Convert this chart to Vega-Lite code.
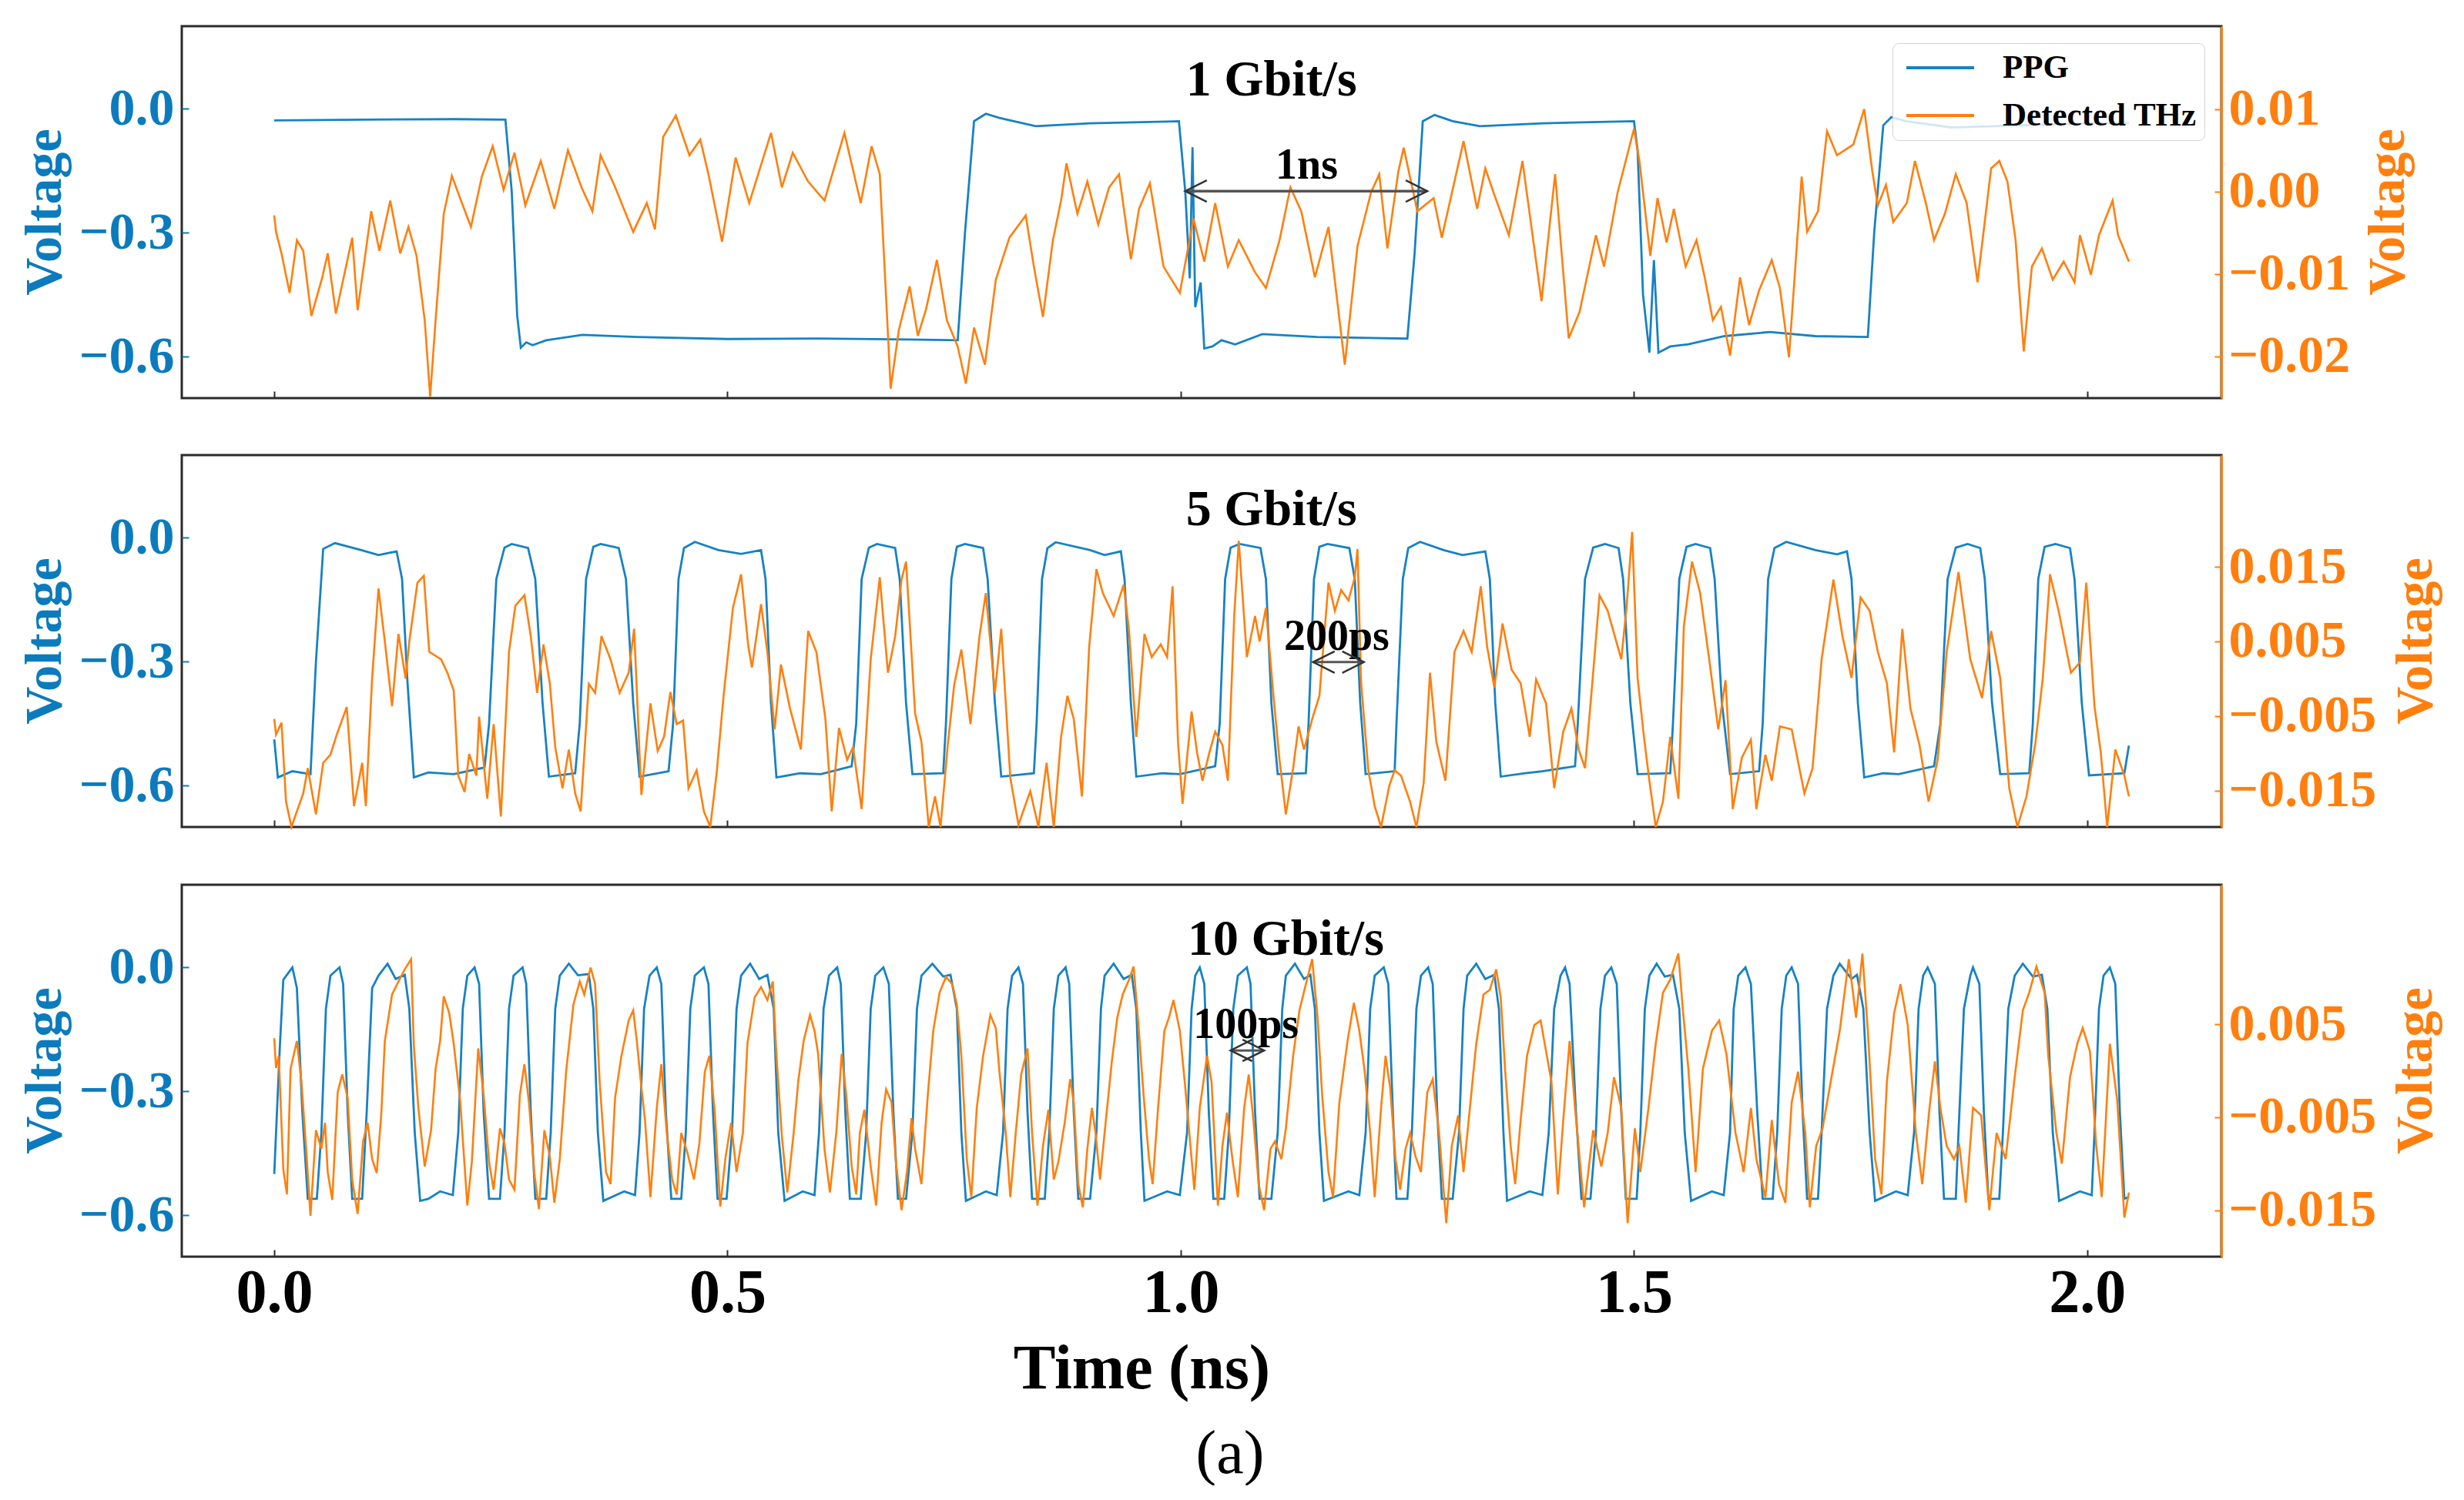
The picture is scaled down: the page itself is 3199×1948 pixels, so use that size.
{
  "$schema": "https://vega.github.io/schema/vega-lite/v6.json",
  "background": "white",
  "padding": {"left": 22, "top": 32, "right": 0, "bottom": 0},
  "title": {"text": "(a)", "orient": "bottom", "anchor": "middle", "font": "Liberation Serif", "fontSize": 80, "fontWeight": "normal", "color": "black", "offset": 30},
  "spacing": 66,
  "datasets": {
    "ppg1": [{"t":0,"v":-0.028},{"t":0.1,"v":-0.026},{"t":0.2,"v":-0.025},{"t":0.255,"v":-0.026},{"t":0.262,"v":-0.2},{"t":0.268,"v":-0.5},{"t":0.272,"v":-0.578},{"t":0.278,"v":-0.565},{"t":0.285,"v":-0.572},{"t":0.3,"v":-0.56},{"t":0.34,"v":-0.547},{"t":0.4,"v":-0.552},{"t":0.5,"v":-0.557},{"t":0.6,"v":-0.556},{"t":0.7,"v":-0.558},{"t":0.754,"v":-0.56},{"t":0.762,"v":-0.3},{"t":0.772,"v":-0.03},{"t":0.785,"v":-0.012},{"t":0.8,"v":-0.022},{"t":0.84,"v":-0.042},{"t":0.9,"v":-0.035},{"t":0.998,"v":-0.03},{"t":1.005,"v":-0.2},{"t":1.01,"v":-0.41},{"t":1.013,"v":-0.093},{"t":1.016,"v":-0.48},{"t":1.022,"v":-0.42},{"t":1.026,"v":-0.58},{"t":1.035,"v":-0.575},{"t":1.045,"v":-0.56},{"t":1.06,"v":-0.57},{"t":1.09,"v":-0.545},{"t":1.15,"v":-0.552},{"t":1.25,"v":-0.556},{"t":1.258,"v":-0.35},{"t":1.267,"v":-0.03},{"t":1.28,"v":-0.015},{"t":1.3,"v":-0.03},{"t":1.33,"v":-0.042},{"t":1.4,"v":-0.035},{"t":1.5,"v":-0.03},{"t":1.504,"v":-0.1},{"t":1.51,"v":-0.45},{"t":1.517,"v":-0.59},{"t":1.522,"v":-0.366},{"t":1.527,"v":-0.59},{"t":1.54,"v":-0.575},{"t":1.56,"v":-0.57},{"t":1.6,"v":-0.55},{"t":1.65,"v":-0.54},{"t":1.7,"v":-0.55},{"t":1.758,"v":-0.552},{"t":1.765,"v":-0.3},{"t":1.775,"v":-0.04},{"t":1.784,"v":-0.02},{"t":1.8,"v":-0.03},{"t":1.85,"v":-0.045},{"t":2.0,"v":-0.035},{"t":2.046,"v":-0.035}],
    "thz1": [{"t":0,"v":-0.0029},{"t":0.002,"v":-0.0049},{"t":0.008,"v":-0.0075},{"t":0.017,"v":-0.0123},{"t":0.025,"v":-0.0059},{"t":0.032,"v":-0.0072},{"t":0.041,"v":-0.0151},{"t":0.053,"v":-0.0104},{"t":0.059,"v":-0.0075},{"t":0.068,"v":-0.0148},{"t":0.086,"v":-0.0056},{"t":0.092,"v":-0.0144},{"t":0.107,"v":-0.0024},{"t":0.116,"v":-0.0072},{"t":0.128,"v":-0.0011},{"t":0.139,"v":-0.0075},{"t":0.148,"v":-0.0043},{"t":0.157,"v":-0.0078},{"t":0.166,"v":-0.0156},{"t":0.172,"v":-0.0249},{"t":0.178,"v":-0.0156},{"t":0.187,"v":-0.0027},{"t":0.196,"v":0.0019},{"t":0.205,"v":-0.0008},{"t":0.217,"v":-0.0043},{"t":0.229,"v":0.0018},{"t":0.241,"v":0.0055},{"t":0.253,"v":0.0002},{"t":0.265,"v":0.0047},{"t":0.277,"v":-0.0017},{"t":0.294,"v":0.0037},{"t":0.309,"v":-0.0021},{"t":0.324,"v":0.005},{"t":0.339,"v":0.0005},{"t":0.351,"v":-0.0024},{"t":0.36,"v":0.0044},{"t":0.375,"v":0.0008},{"t":0.396,"v":-0.0049},{"t":0.411,"v":-0.0014},{"t":0.42,"v":-0.0046},{"t":0.429,"v":0.0066},{"t":0.443,"v":0.0092},{"t":0.458,"v":0.0044},{"t":0.47,"v":0.0063},{"t":0.479,"v":0.0021},{"t":0.494,"v":-0.0061},{"t":0.509,"v":0.0041},{"t":0.524,"v":-0.0014},{"t":0.548,"v":0.0071},{"t":0.56,"v":0.0005},{"t":0.572,"v":0.0047},{"t":0.589,"v":0.0012},{"t":0.607,"v":-0.0011},{"t":0.629,"v":0.0071},{"t":0.647,"v":-0.0014},{"t":0.659,"v":0.0055},{"t":0.668,"v":0.0021},{"t":0.674,"v":-0.0107},{"t":0.68,"v":-0.0239},{"t":0.689,"v":-0.0168},{"t":0.701,"v":-0.0115},{"t":0.71,"v":-0.0175},{"t":0.719,"v":-0.0143},{"t":0.731,"v":-0.0083},{"t":0.742,"v":-0.0156},{"t":0.754,"v":-0.0188},{"t":0.763,"v":-0.0233},{"t":0.772,"v":-0.0165},{"t":0.784,"v":-0.021},{"t":0.796,"v":-0.0107},{"t":0.811,"v":-0.0056},{"t":0.829,"v":-0.0029},{"t":0.838,"v":-0.0091},{"t":0.848,"v":-0.0152},{"t":0.859,"v":-0.0059},{"t":0.868,"v":-0.0011},{"t":0.874,"v":0.0034},{"t":0.886,"v":-0.0027},{"t":0.897,"v":0.0012},{"t":0.909,"v":-0.004},{"t":0.921,"v":0.0005},{"t":0.932,"v":0.0021},{"t":0.945,"v":-0.0082},{"t":0.954,"v":-0.0021},{"t":0.966,"v":0.001},{"t":0.981,"v":-0.0091},{"t":0.999,"v":-0.0123},{"t":1.014,"v":-0.0033},{"t":1.026,"v":-0.0085},{"t":1.038,"v":-0.0014},{"t":1.052,"v":-0.0091},{"t":1.064,"v":-0.0059},{"t":1.082,"v":-0.0098},{"t":1.094,"v":-0.0117},{"t":1.109,"v":-0.0059},{"t":1.121,"v":0.0005},{"t":1.133,"v":-0.0024},{"t":1.148,"v":-0.0104},{"t":1.163,"v":-0.0043},{"t":1.181,"v":-0.021},{"t":1.195,"v":-0.0066},{"t":1.21,"v":-0.0001},{"t":1.219,"v":0.0021},{"t":1.228,"v":-0.0069},{"t":1.24,"v":0.0024},{"t":1.246,"v":0.0053},{"t":1.261,"v":-0.0024},{"t":1.279,"v":-0.0008},{"t":1.288,"v":-0.0056},{"t":1.312,"v":0.0061},{"t":1.327,"v":-0.0021},{"t":1.336,"v":0.0028},{"t":1.345,"v":-0.0001},{"t":1.362,"v":-0.0053},{"t":1.377,"v":0.0037},{"t":1.398,"v":-0.0133},{"t":1.413,"v":0.0021},{"t":1.428,"v":-0.0178},{"t":1.44,"v":-0.0146},{"t":1.458,"v":-0.0053},{"t":1.467,"v":-0.0091},{"t":1.482,"v":-0.0001},{"t":1.5,"v":0.0076},{"t":1.506,"v":0.0037},{"t":1.518,"v":-0.0078},{"t":1.526,"v":-0.0008},{"t":1.536,"v":-0.0062},{"t":1.544,"v":-0.0021},{"t":1.557,"v":-0.0091},{"t":1.569,"v":-0.0059},{"t":1.578,"v":-0.0104},{"t":1.587,"v":-0.0156},{"t":1.596,"v":-0.014},{"t":1.606,"v":-0.0199},{"t":1.617,"v":-0.0104},{"t":1.627,"v":-0.0162},{"t":1.638,"v":-0.012},{"t":1.652,"v":-0.0083},{"t":1.661,"v":-0.0117},{"t":1.671,"v":-0.0201},{"t":1.685,"v":0.0018},{"t":1.691,"v":-0.0049},{"t":1.703,"v":-0.0024},{"t":1.713,"v":0.0073},{"t":1.724,"v":0.0044},{"t":1.742,"v":0.0057},{"t":1.754,"v":0.01},{"t":1.763,"v":0.0024},{"t":1.769,"v":-0.0017},{"t":1.778,"v":0.0008},{"t":1.786,"v":-0.0037},{"t":1.801,"v":-0.0014},{"t":1.81,"v":0.0037},{"t":1.822,"v":-0.0014},{"t":1.831,"v":-0.0059},{"t":1.843,"v":-0.0027},{"t":1.855,"v":0.0021},{"t":1.867,"v":-0.0014},{"t":1.879,"v":-0.011},{"t":1.894,"v":0.0028},{"t":1.903,"v":0.0037},{"t":1.912,"v":0.0012},{"t":1.921,"v":-0.0059},{"t":1.93,"v":-0.0194},{"t":1.939,"v":-0.0091},{"t":1.95,"v":-0.0069},{"t":1.962,"v":-0.0107},{"t":1.974,"v":-0.0085},{"t":1.986,"v":-0.011},{"t":1.992,"v":-0.0053},{"t":2.004,"v":-0.0101},{"t":2.013,"v":-0.0053},{"t":2.028,"v":-0.0011},{"t":2.034,"v":-0.0053},{"t":2.046,"v":-0.0085}],
    "ppg5": [{"t":0,"v":-0.488},{"t":0.004,"v":-0.58},{"t":0.02,"v":-0.565},{"t":0.04,"v":-0.572},{"t":0.046,"v":-0.3},{"t":0.054,"v":-0.027},{"t":0.067,"v":-0.013},{"t":0.096,"v":-0.03},{"t":0.115,"v":-0.042},{"t":0.135,"v":-0.033},{"t":0.141,"v":-0.1},{"t":0.147,"v":-0.35},{"t":0.154,"v":-0.58},{"t":0.17,"v":-0.568},{"t":0.198,"v":-0.572},{"t":0.232,"v":-0.556},{"t":0.237,"v":-0.45},{"t":0.245,"v":-0.1},{"t":0.254,"v":-0.024},{"t":0.262,"v":-0.015},{"t":0.28,"v":-0.025},{"t":0.288,"v":-0.1},{"t":0.296,"v":-0.4},{"t":0.303,"v":-0.578},{"t":0.332,"v":-0.57},{"t":0.337,"v":-0.45},{"t":0.344,"v":-0.1},{"t":0.352,"v":-0.022},{"t":0.36,"v":-0.015},{"t":0.38,"v":-0.025},{"t":0.388,"v":-0.1},{"t":0.396,"v":-0.4},{"t":0.403,"v":-0.578},{"t":0.435,"v":-0.565},{"t":0.44,"v":-0.45},{"t":0.446,"v":-0.1},{"t":0.452,"v":-0.025},{"t":0.464,"v":-0.01},{"t":0.49,"v":-0.03},{"t":0.515,"v":-0.039},{"t":0.537,"v":-0.03},{"t":0.542,"v":-0.1},{"t":0.548,"v":-0.4},{"t":0.554,"v":-0.58},{"t":0.58,"v":-0.57},{"t":0.603,"v":-0.572},{"t":0.637,"v":-0.553},{"t":0.642,"v":-0.45},{"t":0.648,"v":-0.1},{"t":0.656,"v":-0.024},{"t":0.665,"v":-0.015},{"t":0.685,"v":-0.025},{"t":0.69,"v":-0.1},{"t":0.697,"v":-0.4},{"t":0.704,"v":-0.572},{"t":0.738,"v":-0.57},{"t":0.741,"v":-0.45},{"t":0.747,"v":-0.1},{"t":0.753,"v":-0.022},{"t":0.762,"v":-0.015},{"t":0.782,"v":-0.025},{"t":0.787,"v":-0.1},{"t":0.795,"v":-0.4},{"t":0.802,"v":-0.578},{"t":0.838,"v":-0.57},{"t":0.841,"v":-0.45},{"t":0.847,"v":-0.1},{"t":0.853,"v":-0.025},{"t":0.862,"v":-0.011},{"t":0.9,"v":-0.03},{"t":0.916,"v":-0.042},{"t":0.934,"v":-0.033},{"t":0.938,"v":-0.1},{"t":0.945,"v":-0.4},{"t":0.951,"v":-0.578},{"t":0.98,"v":-0.57},{"t":0.999,"v":-0.572},{"t":1.038,"v":-0.553},{"t":1.043,"v":-0.45},{"t":1.049,"v":-0.1},{"t":1.055,"v":-0.024},{"t":1.065,"v":-0.015},{"t":1.088,"v":-0.025},{"t":1.094,"v":-0.1},{"t":1.1,"v":-0.4},{"t":1.107,"v":-0.572},{"t":1.138,"v":-0.57},{"t":1.141,"v":-0.45},{"t":1.147,"v":-0.1},{"t":1.153,"v":-0.022},{"t":1.162,"v":-0.015},{"t":1.186,"v":-0.025},{"t":1.192,"v":-0.1},{"t":1.198,"v":-0.4},{"t":1.204,"v":-0.572},{"t":1.236,"v":-0.565},{"t":1.238,"v":-0.45},{"t":1.245,"v":-0.1},{"t":1.251,"v":-0.025},{"t":1.264,"v":-0.01},{"t":1.29,"v":-0.03},{"t":1.311,"v":-0.042},{"t":1.336,"v":-0.033},{"t":1.341,"v":-0.1},{"t":1.347,"v":-0.4},{"t":1.353,"v":-0.578},{"t":1.38,"v":-0.57},{"t":1.399,"v":-0.565},{"t":1.435,"v":-0.553},{"t":1.438,"v":-0.45},{"t":1.446,"v":-0.1},{"t":1.455,"v":-0.024},{"t":1.468,"v":-0.015},{"t":1.483,"v":-0.025},{"t":1.488,"v":-0.1},{"t":1.496,"v":-0.4},{"t":1.504,"v":-0.572},{"t":1.54,"v":-0.57},{"t":1.543,"v":-0.45},{"t":1.55,"v":-0.1},{"t":1.558,"v":-0.022},{"t":1.568,"v":-0.015},{"t":1.584,"v":-0.025},{"t":1.589,"v":-0.1},{"t":1.597,"v":-0.4},{"t":1.606,"v":-0.572},{"t":1.638,"v":-0.565},{"t":1.642,"v":-0.45},{"t":1.648,"v":-0.1},{"t":1.655,"v":-0.025},{"t":1.668,"v":-0.01},{"t":1.7,"v":-0.03},{"t":1.724,"v":-0.04},{"t":1.735,"v":-0.033},{"t":1.74,"v":-0.1},{"t":1.747,"v":-0.4},{"t":1.754,"v":-0.58},{"t":1.775,"v":-0.57},{"t":1.792,"v":-0.572},{"t":1.831,"v":-0.553},{"t":1.838,"v":-0.45},{"t":1.846,"v":-0.1},{"t":1.855,"v":-0.024},{"t":1.868,"v":-0.015},{"t":1.882,"v":-0.025},{"t":1.887,"v":-0.1},{"t":1.895,"v":-0.4},{"t":1.904,"v":-0.572},{"t":1.936,"v":-0.57},{"t":1.94,"v":-0.45},{"t":1.946,"v":-0.1},{"t":1.953,"v":-0.022},{"t":1.965,"v":-0.015},{"t":1.981,"v":-0.025},{"t":1.986,"v":-0.1},{"t":1.994,"v":-0.4},{"t":2.002,"v":-0.575},{"t":2.041,"v":-0.57},{"t":2.046,"v":-0.503}],
    "thz5": [{"t":0,"v":-0.0054},{"t":0.002,"v":-0.0075},{"t":0.008,"v":-0.0059},{"t":0.013,"v":-0.0165},{"t":0.019,"v":-0.0199},{"t":0.025,"v":-0.0178},{"t":0.032,"v":-0.0154},{"t":0.037,"v":-0.012},{"t":0.046,"v":-0.0182},{"t":0.054,"v":-0.0113},{"t":0.062,"v":-0.0102},{"t":0.069,"v":-0.0075},{"t":0.08,"v":-0.0038},{"t":0.088,"v":-0.0171},{"t":0.097,"v":-0.0113},{"t":0.101,"v":-0.0171},{"t":0.108,"v":0.0001},{"t":0.115,"v":0.0121},{"t":0.122,"v":0.005},{"t":0.13,"v":-0.0037},{"t":0.137,"v":0.006},{"t":0.145,"v":0.0},{"t":0.149,"v":0.005},{"t":0.158,"v":0.0129},{"t":0.165,"v":0.0138},{"t":0.171,"v":0.0036},{"t":0.184,"v":0.0026},{"t":0.191,"v":0.0008},{"t":0.198,"v":-0.0016},{"t":0.203,"v":-0.013},{"t":0.21,"v":-0.0152},{"t":0.215,"v":-0.0101},{"t":0.223,"v":-0.013},{"t":0.226,"v":-0.0051},{"t":0.235,"v":-0.0161},{"t":0.242,"v":-0.0061},{"t":0.25,"v":-0.0185},{"t":0.259,"v":0.0036},{"t":0.266,"v":0.0098},{"t":0.276,"v":0.0112},{"t":0.283,"v":0.0057},{"t":0.29,"v":-0.0019},{"t":0.297,"v":0.0046},{"t":0.304,"v":-0.0006},{"t":0.31,"v":-0.0092},{"t":0.318,"v":-0.0147},{"t":0.325,"v":-0.0095},{"t":0.332,"v":-0.0154},{"t":0.338,"v":-0.0178},{"t":0.347,"v":-0.0007},{"t":0.354,"v":-0.0019},{"t":0.361,"v":0.0057},{"t":0.371,"v":0.0026},{"t":0.381,"v":-0.0019},{"t":0.391,"v":0.0008},{"t":0.397,"v":0.0067},{"t":0.405,"v":-0.0156},{"t":0.415,"v":-0.0033},{"t":0.423,"v":-0.0097},{"t":0.43,"v":-0.0078},{"t":0.437,"v":-0.0018},{"t":0.444,"v":-0.0061},{"t":0.451,"v":-0.0056},{"t":0.457,"v":-0.0147},{"t":0.466,"v":-0.0123},{"t":0.474,"v":-0.0178},{"t":0.481,"v":-0.0199},{"t":0.488,"v":-0.0127},{"t":0.496,"v":-0.0019},{"t":0.506,"v":0.0095},{"t":0.515,"v":0.014},{"t":0.523,"v":0.0043},{"t":0.527,"v":0.0015},{"t":0.537,"v":0.01},{"t":0.544,"v":0.0036},{"t":0.552,"v":-0.0068},{"t":0.559,"v":0.0019},{"t":0.569,"v":-0.004},{"t":0.581,"v":-0.0095},{"t":0.589,"v":0.0064},{"t":0.598,"v":0.0036},{"t":0.608,"v":-0.0054},{"t":0.615,"v":-0.0178},{"t":0.623,"v":-0.0066},{"t":0.632,"v":-0.0109},{"t":0.6385,"v":-0.0092},{"t":0.648,"v":-0.0175},{"t":0.658,"v":0.0026},{"t":0.668,"v":0.0136},{"t":0.677,"v":0.0008},{"t":0.685,"v":0.0057},{"t":0.692,"v":0.0133},{"t":0.697,"v":0.0157},{"t":0.707,"v":-0.0047},{"t":0.714,"v":-0.0085},{"t":0.722,"v":-0.0199},{"t":0.729,"v":-0.0158},{"t":0.735,"v":-0.0199},{"t":0.743,"v":-0.0089},{"t":0.75,"v":-0.0009},{"t":0.758,"v":0.0039},{"t":0.768,"v":-0.0061},{"t":0.778,"v":0.0057},{"t":0.785,"v":0.0115},{"t":0.795,"v":-0.0019},{"t":0.802,"v":0.0067},{"t":0.812,"v":-0.0133},{"t":0.821,"v":-0.0196},{"t":0.834,"v":-0.0151},{"t":0.843,"v":-0.0199},{"t":0.852,"v":-0.0113},{"t":0.86,"v":-0.0199},{"t":0.868,"v":-0.0078},{"t":0.875,"v":-0.0023},{"t":0.882,"v":-0.0054},{"t":0.891,"v":-0.0158},{"t":0.899,"v":0.0043},{"t":0.907,"v":0.0147},{"t":0.914,"v":0.0115},{"t":0.926,"v":0.0084},{"t":0.937,"v":0.0126},{"t":0.943,"v":0.0064},{"t":0.951,"v":-0.0078},{"t":0.96,"v":0.006},{"t":0.968,"v":0.0029},{"t":0.978,"v":0.0046},{"t":0.985,"v":0.0029},{"t":0.991,"v":0.0124},{"t":0.997,"v":-0.0085},{"t":1.002,"v":-0.0168},{"t":1.012,"v":-0.0044},{"t":1.018,"v":-0.0099},{"t":1.024,"v":-0.0137},{"t":1.031,"v":-0.0102},{"t":1.038,"v":-0.0071},{"t":1.046,"v":-0.0089},{"t":1.052,"v":-0.0137},{"t":1.059,"v":0.0084},{"t":1.064,"v":0.0185},{"t":1.073,"v":0.0029},{"t":1.082,"v":0.0084},{"t":1.087,"v":0.005},{"t":1.094,"v":0.0095},{"t":1.102,"v":-0.0019},{"t":1.109,"v":-0.0109},{"t":1.116,"v":-0.0182},{"t":1.124,"v":-0.012},{"t":1.13,"v":-0.0064},{"t":1.136,"v":-0.0095},{"t":1.146,"v":-0.005},{"t":1.153,"v":-0.0023},{"t":1.163,"v":0.0129},{"t":1.17,"v":0.0091},{"t":1.177,"v":0.0119},{"t":1.185,"v":0.0105},{"t":1.192,"v":0.0136},{"t":1.195,"v":0.0174},{"t":1.199,"v":-0.0006},{"t":1.207,"v":-0.0123},{"t":1.214,"v":-0.0171},{"t":1.221,"v":-0.0199},{"t":1.23,"v":-0.0144},{"t":1.236,"v":-0.0123},{"t":1.243,"v":-0.013},{"t":1.253,"v":-0.0165},{"t":1.26,"v":-0.0199},{"t":1.268,"v":-0.014},{"t":1.275,"v":0.0008},{"t":1.282,"v":-0.0085},{"t":1.292,"v":-0.0137},{"t":1.302,"v":0.0036},{"t":1.312,"v":0.0064},{"t":1.321,"v":0.0036},{"t":1.331,"v":0.0124},{"t":1.338,"v":0.0043},{"t":1.346,"v":-0.0012},{"t":1.355,"v":0.0074},{"t":1.365,"v":0.0012},{"t":1.375,"v":-0.0006},{"t":1.385,"v":-0.0078},{"t":1.392,"v":-0.0001},{"t":1.403,"v":-0.0033},{"t":1.412,"v":-0.0147},{"t":1.422,"v":-0.0071},{"t":1.431,"v":-0.004},{"t":1.439,"v":-0.0095},{"t":1.446,"v":-0.012},{"t":1.455,"v":0.0008},{"t":1.462,"v":0.0112},{"t":1.471,"v":0.0091},{"t":1.486,"v":0.0026},{"t":1.492,"v":0.0098},{"t":1.498,"v":0.0197},{"t":1.504,"v":0.0001},{"t":1.511,"v":-0.0078},{"t":1.517,"v":-0.0137},{"t":1.524,"v":-0.0199},{"t":1.532,"v":-0.0165},{"t":1.54,"v":-0.0078},{"t":1.549,"v":-0.0161},{"t":1.555,"v":0.007},{"t":1.564,"v":0.0157},{"t":1.573,"v":0.0115},{"t":1.583,"v":0.0026},{"t":1.593,"v":-0.0068},{"t":1.601,"v":-0.0002},{"t":1.609,"v":-0.0175},{"t":1.619,"v":-0.0106},{"t":1.629,"v":-0.0082},{"t":1.635,"v":-0.0175},{"t":1.645,"v":-0.0102},{"t":1.652,"v":-0.0137},{"t":1.661,"v":-0.0064},{"t":1.674,"v":-0.0068},{"t":1.688,"v":-0.0154},{"t":1.697,"v":-0.012},{"t":1.707,"v":0.0026},{"t":1.72,"v":0.0133},{"t":1.73,"v":0.0057},{"t":1.74,"v":0.0001},{"t":1.75,"v":0.0109},{"t":1.76,"v":0.0091},{"t":1.769,"v":0.0036},{"t":1.779,"v":-0.0006},{"t":1.787,"v":-0.0099},{"t":1.796,"v":0.0067},{"t":1.805,"v":-0.004},{"t":1.815,"v":-0.0089},{"t":1.825,"v":-0.0165},{"t":1.835,"v":-0.0109},{"t":1.845,"v":0.0036},{"t":1.858,"v":0.0143},{"t":1.871,"v":0.0026},{"t":1.884,"v":-0.0026},{"t":1.894,"v":0.0064},{"t":1.904,"v":0.0001},{"t":1.914,"v":-0.0147},{"t":1.923,"v":-0.0199},{"t":1.933,"v":-0.0158},{"t":1.943,"v":-0.0085},{"t":1.951,"v":0.0001},{"t":1.959,"v":0.014},{"t":1.969,"v":0.0088},{"t":1.982,"v":0.0008},{"t":1.992,"v":0.0022},{"t":1.999,"v":0.0129},{"t":2.008,"v":-0.0037},{"t":2.015,"v":-0.0099},{"t":2.022,"v":-0.0199},{"t":2.031,"v":-0.0095},{"t":2.041,"v":-0.013},{"t":2.046,"v":-0.0158}],
    "ppg10": [{"t":0,"v":-0.5},{"t":0.006,"v":-0.2},{"t":0.01,"v":-0.03},{"t":0.02,"v":0.0},{"t":0.025,"v":-0.05},{"t":0.031,"v":-0.35},{"t":0.037,"v":-0.56},{"t":0.047,"v":-0.56},{"t":0.052,"v":-0.4},{"t":0.057,"v":-0.1},{"t":0.062,"v":-0.02},{"t":0.072,"v":0.0},{"t":0.076,"v":-0.04},{"t":0.081,"v":-0.35},{"t":0.086,"v":-0.56},{"t":0.097,"v":-0.56},{"t":0.102,"v":-0.35},{"t":0.108,"v":-0.05},{"t":0.115,"v":-0.02},{"t":0.125,"v":0.009},{"t":0.134,"v":-0.028},{"t":0.144,"v":-0.018},{"t":0.149,"v":-0.1},{"t":0.155,"v":-0.4},{"t":0.161,"v":-0.565},{"t":0.17,"v":-0.56},{"t":0.183,"v":-0.542},{"t":0.197,"v":-0.551},{"t":0.203,"v":-0.4},{"t":0.208,"v":-0.1},{"t":0.213,"v":-0.02},{"t":0.221,"v":0.0},{"t":0.226,"v":-0.04},{"t":0.231,"v":-0.35},{"t":0.237,"v":-0.56},{"t":0.249,"v":-0.56},{"t":0.254,"v":-0.4},{"t":0.259,"v":-0.1},{"t":0.264,"v":-0.02},{"t":0.274,"v":0.0},{"t":0.278,"v":-0.04},{"t":0.283,"v":-0.35},{"t":0.288,"v":-0.56},{"t":0.3,"v":-0.56},{"t":0.305,"v":-0.4},{"t":0.31,"v":-0.1},{"t":0.315,"v":-0.02},{"t":0.325,"v":0.009},{"t":0.335,"v":-0.019},{"t":0.347,"v":-0.016},{"t":0.352,"v":-0.1},{"t":0.357,"v":-0.4},{"t":0.363,"v":-0.565},{"t":0.386,"v":-0.542},{"t":0.398,"v":-0.551},{"t":0.403,"v":-0.4},{"t":0.408,"v":-0.1},{"t":0.414,"v":-0.02},{"t":0.422,"v":0.0},{"t":0.427,"v":-0.04},{"t":0.432,"v":-0.35},{"t":0.438,"v":-0.56},{"t":0.449,"v":-0.56},{"t":0.454,"v":-0.4},{"t":0.459,"v":-0.1},{"t":0.464,"v":-0.02},{"t":0.474,"v":0.0},{"t":0.479,"v":-0.04},{"t":0.484,"v":-0.35},{"t":0.489,"v":-0.56},{"t":0.499,"v":-0.56},{"t":0.505,"v":-0.4},{"t":0.51,"v":-0.1},{"t":0.515,"v":-0.02},{"t":0.525,"v":0.009},{"t":0.535,"v":-0.028},{"t":0.544,"v":-0.018},{"t":0.551,"v":-0.1},{"t":0.556,"v":-0.4},{"t":0.563,"v":-0.565},{"t":0.583,"v":-0.542},{"t":0.596,"v":-0.551},{"t":0.601,"v":-0.4},{"t":0.606,"v":-0.1},{"t":0.612,"v":-0.02},{"t":0.621,"v":0.0},{"t":0.625,"v":-0.04},{"t":0.63,"v":-0.35},{"t":0.635,"v":-0.56},{"t":0.647,"v":-0.56},{"t":0.653,"v":-0.4},{"t":0.658,"v":-0.1},{"t":0.663,"v":-0.02},{"t":0.672,"v":0.0},{"t":0.678,"v":-0.04},{"t":0.683,"v":-0.35},{"t":0.688,"v":-0.56},{"t":0.697,"v":-0.56},{"t":0.704,"v":-0.4},{"t":0.709,"v":-0.1},{"t":0.714,"v":-0.02},{"t":0.726,"v":0.009},{"t":0.738,"v":-0.022},{"t":0.746,"v":-0.018},{"t":0.753,"v":-0.1},{"t":0.758,"v":-0.4},{"t":0.763,"v":-0.565},{"t":0.785,"v":-0.542},{"t":0.797,"v":-0.551},{"t":0.804,"v":-0.4},{"t":0.809,"v":-0.1},{"t":0.814,"v":-0.02},{"t":0.821,"v":0.0},{"t":0.826,"v":-0.04},{"t":0.831,"v":-0.35},{"t":0.836,"v":-0.56},{"t":0.85,"v":-0.56},{"t":0.855,"v":-0.4},{"t":0.86,"v":-0.1},{"t":0.865,"v":-0.02},{"t":0.873,"v":0.0},{"t":0.877,"v":-0.04},{"t":0.882,"v":-0.35},{"t":0.887,"v":-0.56},{"t":0.9,"v":-0.56},{"t":0.907,"v":-0.4},{"t":0.912,"v":-0.1},{"t":0.916,"v":-0.02},{"t":0.926,"v":0.009},{"t":0.937,"v":-0.028},{"t":0.946,"v":-0.018},{"t":0.951,"v":-0.1},{"t":0.956,"v":-0.4},{"t":0.96,"v":-0.565},{"t":0.985,"v":-0.542},{"t":0.999,"v":-0.551},{"t":1.007,"v":-0.4},{"t":1.012,"v":-0.1},{"t":1.016,"v":-0.02},{"t":1.021,"v":0.0},{"t":1.026,"v":-0.04},{"t":1.031,"v":-0.35},{"t":1.036,"v":-0.56},{"t":1.048,"v":-0.56},{"t":1.053,"v":-0.4},{"t":1.058,"v":-0.1},{"t":1.063,"v":-0.02},{"t":1.073,"v":0.0},{"t":1.077,"v":-0.04},{"t":1.082,"v":-0.35},{"t":1.087,"v":-0.56},{"t":1.1,"v":-0.56},{"t":1.107,"v":-0.4},{"t":1.112,"v":-0.1},{"t":1.116,"v":-0.02},{"t":1.126,"v":0.009},{"t":1.136,"v":-0.028},{"t":1.143,"v":-0.018},{"t":1.148,"v":-0.1},{"t":1.153,"v":-0.4},{"t":1.158,"v":-0.565},{"t":1.185,"v":-0.542},{"t":1.197,"v":-0.551},{"t":1.204,"v":-0.4},{"t":1.209,"v":-0.1},{"t":1.214,"v":-0.02},{"t":1.224,"v":0.0},{"t":1.229,"v":-0.04},{"t":1.234,"v":-0.35},{"t":1.238,"v":-0.56},{"t":1.25,"v":-0.56},{"t":1.255,"v":-0.4},{"t":1.26,"v":-0.1},{"t":1.265,"v":-0.02},{"t":1.273,"v":0.0},{"t":1.278,"v":-0.04},{"t":1.283,"v":-0.35},{"t":1.288,"v":-0.56},{"t":1.3,"v":-0.56},{"t":1.307,"v":-0.4},{"t":1.312,"v":-0.1},{"t":1.316,"v":-0.02},{"t":1.326,"v":0.009},{"t":1.336,"v":-0.028},{"t":1.346,"v":-0.018},{"t":1.351,"v":-0.1},{"t":1.356,"v":-0.4},{"t":1.36,"v":-0.565},{"t":1.385,"v":-0.542},{"t":1.399,"v":-0.551},{"t":1.406,"v":-0.4},{"t":1.412,"v":-0.1},{"t":1.419,"v":-0.02},{"t":1.424,"v":0.0},{"t":1.429,"v":-0.04},{"t":1.436,"v":-0.35},{"t":1.442,"v":-0.56},{"t":1.452,"v":-0.56},{"t":1.458,"v":-0.4},{"t":1.463,"v":-0.1},{"t":1.468,"v":-0.02},{"t":1.475,"v":0.0},{"t":1.481,"v":-0.04},{"t":1.486,"v":-0.35},{"t":1.491,"v":-0.56},{"t":1.503,"v":-0.56},{"t":1.507,"v":-0.4},{"t":1.512,"v":-0.1},{"t":1.517,"v":-0.02},{"t":1.525,"v":0.009},{"t":1.534,"v":-0.022},{"t":1.543,"v":-0.018},{"t":1.55,"v":-0.1},{"t":1.556,"v":-0.4},{"t":1.563,"v":-0.565},{"t":1.586,"v":-0.542},{"t":1.599,"v":-0.551},{"t":1.606,"v":-0.4},{"t":1.61,"v":-0.1},{"t":1.615,"v":-0.02},{"t":1.623,"v":0.0},{"t":1.629,"v":-0.04},{"t":1.636,"v":-0.35},{"t":1.642,"v":-0.56},{"t":1.653,"v":-0.56},{"t":1.658,"v":-0.4},{"t":1.663,"v":-0.1},{"t":1.668,"v":-0.02},{"t":1.674,"v":0.0},{"t":1.681,"v":-0.04},{"t":1.686,"v":-0.35},{"t":1.691,"v":-0.56},{"t":1.703,"v":-0.56},{"t":1.707,"v":-0.4},{"t":1.713,"v":-0.1},{"t":1.72,"v":-0.02},{"t":1.727,"v":0.009},{"t":1.74,"v":-0.028},{"t":1.746,"v":-0.018},{"t":1.753,"v":-0.1},{"t":1.76,"v":-0.4},{"t":1.766,"v":-0.565},{"t":1.789,"v":-0.542},{"t":1.802,"v":-0.551},{"t":1.809,"v":-0.4},{"t":1.814,"v":-0.1},{"t":1.819,"v":-0.02},{"t":1.824,"v":0.0},{"t":1.832,"v":-0.04},{"t":1.837,"v":-0.35},{"t":1.842,"v":-0.56},{"t":1.855,"v":-0.56},{"t":1.858,"v":-0.4},{"t":1.864,"v":-0.1},{"t":1.871,"v":-0.02},{"t":1.874,"v":0.0},{"t":1.881,"v":-0.04},{"t":1.886,"v":-0.35},{"t":1.891,"v":-0.56},{"t":1.903,"v":-0.56},{"t":1.907,"v":-0.4},{"t":1.913,"v":-0.1},{"t":1.92,"v":-0.02},{"t":1.929,"v":0.009},{"t":1.94,"v":-0.022},{"t":1.95,"v":-0.018},{"t":1.956,"v":-0.1},{"t":1.962,"v":-0.4},{"t":1.969,"v":-0.565},{"t":1.992,"v":-0.542},{"t":2.005,"v":-0.551},{"t":2.008,"v":-0.4},{"t":2.013,"v":-0.1},{"t":2.018,"v":-0.02},{"t":2.025,"v":0.0},{"t":2.031,"v":-0.04},{"t":2.036,"v":-0.35},{"t":2.041,"v":-0.56},{"t":2.046,"v":-0.555}],
    "thz10": [{"t":0,"v":0.0035},{"t":0.002,"v":0.0003},{"t":0.005,"v":0.0016},{"t":0.01,"v":-0.0106},{"t":0.014,"v":-0.0133},{"t":0.018,"v":0.0002},{"t":0.025,"v":0.0032},{"t":0.03,"v":-0.0012},{"t":0.035,"v":-0.0081},{"t":0.04,"v":-0.0156},{"t":0.046,"v":-0.0064},{"t":0.052,"v":-0.0084},{"t":0.056,"v":-0.0056},{"t":0.059,"v":-0.0109},{"t":0.064,"v":-0.0139},{"t":0.07,"v":-0.0023},{"t":0.075,"v":-0.0004},{"t":0.081,"v":-0.0029},{"t":0.086,"v":-0.0117},{"t":0.092,"v":-0.0154},{"t":0.098,"v":-0.0076},{"t":0.103,"v":-0.0056},{"t":0.108,"v":-0.0095},{"t":0.113,"v":-0.011},{"t":0.118,"v":-0.0048},{"t":0.122,"v":0.0032},{"t":0.13,"v":0.0082},{"t":0.137,"v":0.0096},{"t":0.144,"v":0.0109},{"t":0.151,"v":0.012},{"t":0.154,"v":0.0027},{"t":0.159,"v":-0.004},{"t":0.166,"v":-0.0103},{"t":0.173,"v":-0.0064},{"t":0.178,"v":0.0002},{"t":0.183,"v":0.0032},{"t":0.187,"v":0.008},{"t":0.193,"v":0.0062},{"t":0.198,"v":0.0029},{"t":0.205,"v":-0.0031},{"t":0.213,"v":-0.0145},{"t":0.218,"v":-0.0098},{"t":0.225,"v":0.0024},{"t":0.231,"v":-0.0026},{"t":0.237,"v":-0.0098},{"t":0.242,"v":-0.0128},{"t":0.249,"v":-0.0062},{"t":0.254,"v":-0.0078},{"t":0.259,"v":-0.0117},{"t":0.265,"v":-0.0128},{"t":0.271,"v":-0.0026},{"t":0.276,"v":0.0007},{"t":0.281,"v":-0.0034},{"t":0.287,"v":-0.0111},{"t":0.292,"v":-0.0149},{"t":0.298,"v":-0.0064},{"t":0.304,"v":-0.0092},{"t":0.309,"v":-0.0142},{"t":0.315,"v":-0.0095},{"t":0.322,"v":-0.0001},{"t":0.33,"v":0.0071},{"t":0.337,"v":0.0096},{"t":0.342,"v":0.0082},{"t":0.349,"v":0.0111},{"t":0.354,"v":0.0093},{"t":0.359,"v":-0.0012},{"t":0.366,"v":-0.0109},{"t":0.371,"v":-0.0122},{"t":0.376,"v":-0.0029},{"t":0.383,"v":0.0016},{"t":0.391,"v":0.0054},{"t":0.396,"v":0.0065},{"t":0.4,"v":0.0032},{"t":0.405,"v":-0.0018},{"t":0.409,"v":-0.0053},{"t":0.415,"v":-0.0136},{"t":0.422,"v":-0.004},{"t":0.427,"v":0.0007},{"t":0.433,"v":-0.0067},{"t":0.439,"v":-0.0117},{"t":0.444,"v":-0.0133},{"t":0.449,"v":-0.0067},{"t":0.456,"v":-0.0089},{"t":0.463,"v":-0.0117},{"t":0.469,"v":-0.0078},{"t":0.475,"v":-0.0001},{"t":0.48,"v":0.0016},{"t":0.486,"v":-0.0045},{"t":0.492,"v":-0.0146},{"t":0.498,"v":-0.0092},{"t":0.504,"v":-0.0056},{"t":0.51,"v":-0.0109},{"t":0.517,"v":-0.0067},{"t":0.522,"v":0.0029},{"t":0.53,"v":0.0079},{"t":0.537,"v":0.009},{"t":0.544,"v":0.0076},{"t":0.55,"v":0.0096},{"t":0.554,"v":0.0016},{"t":0.56,"v":-0.007},{"t":0.566,"v":-0.0131},{"t":0.573,"v":-0.0067},{"t":0.578,"v":-0.0012},{"t":0.584,"v":0.0032},{"t":0.591,"v":0.006},{"t":0.596,"v":0.0043},{"t":0.6,"v":0.0018},{"t":0.607,"v":-0.0084},{"t":0.613,"v":-0.0131},{"t":0.62,"v":-0.0067},{"t":0.626,"v":0.0018},{"t":0.631,"v":-0.0026},{"t":0.637,"v":-0.0103},{"t":0.642,"v":-0.0133},{"t":0.646,"v":-0.0067},{"t":0.651,"v":-0.0042},{"t":0.658,"v":-0.0103},{"t":0.664,"v":-0.0145},{"t":0.67,"v":-0.0056},{"t":0.675,"v":-0.002},{"t":0.681,"v":-0.0034},{"t":0.686,"v":-0.01},{"t":0.692,"v":-0.015},{"t":0.698,"v":-0.0109},{"t":0.703,"v":-0.0051},{"t":0.707,"v":-0.0084},{"t":0.714,"v":-0.0122},{"t":0.721,"v":-0.0026},{"t":0.727,"v":0.0043},{"t":0.734,"v":0.0084},{"t":0.741,"v":0.0101},{"t":0.748,"v":0.0093},{"t":0.753,"v":0.0071},{"t":0.758,"v":0.0016},{"t":0.764,"v":-0.0095},{"t":0.769,"v":-0.0136},{"t":0.775,"v":-0.004},{"t":0.782,"v":0.0016},{"t":0.79,"v":0.006},{"t":0.796,"v":0.0046},{"t":0.8,"v":-0.0001},{"t":0.807,"v":-0.0067},{"t":0.812,"v":-0.0136},{"t":0.818,"v":-0.0067},{"t":0.824,"v":-0.0004},{"t":0.831,"v":0.0024},{"t":0.836,"v":-0.0067},{"t":0.842,"v":-0.0145},{"t":0.848,"v":-0.0081},{"t":0.854,"v":-0.0042},{"t":0.86,"v":-0.0117},{"t":0.865,"v":-0.0098},{"t":0.872,"v":-0.0056},{"t":0.878,"v":-0.0009},{"t":0.882,"v":-0.0034},{"t":0.887,"v":-0.0122},{"t":0.892,"v":-0.0147},{"t":0.897,"v":-0.0084},{"t":0.902,"v":-0.004},{"t":0.906,"v":-0.0067},{"t":0.911,"v":-0.0117},{"t":0.916,"v":-0.0067},{"t":0.924,"v":0.001},{"t":0.93,"v":0.0057},{"t":0.936,"v":0.0082},{"t":0.943,"v":0.0098},{"t":0.948,"v":0.0112},{"t":0.953,"v":0.0054},{"t":0.959,"v":-0.0026},{"t":0.965,"v":-0.0095},{"t":0.969,"v":-0.0122},{"t":0.975,"v":-0.004},{"t":0.982,"v":0.0043},{"t":0.987,"v":0.0057},{"t":0.992,"v":0.0076},{"t":0.999,"v":0.0043},{"t":1.005,"v":-0.0018},{"t":1.012,"v":-0.0095},{"t":1.015,"v":-0.0128},{"t":1.021,"v":-0.004},{"t":1.029,"v":0.0016},{"t":1.034,"v":-0.0012},{"t":1.041,"v":-0.0145},{"t":1.046,"v":-0.0081},{"t":1.051,"v":-0.0045},{"t":1.057,"v":-0.0095},{"t":1.063,"v":-0.0136},{"t":1.07,"v":-0.004},{"t":1.075,"v":-0.0004},{"t":1.08,"v":-0.0051},{"t":1.086,"v":-0.0122},{"t":1.092,"v":-0.015},{"t":1.099,"v":-0.0084},{"t":1.104,"v":-0.0076},{"t":1.111,"v":-0.0095},{"t":1.116,"v":-0.0062},{"t":1.124,"v":0.0016},{"t":1.131,"v":0.0065},{"t":1.138,"v":0.0093},{"t":1.145,"v":0.012},{"t":1.151,"v":0.0057},{"t":1.156,"v":-0.0026},{"t":1.163,"v":-0.0109},{"t":1.168,"v":-0.0136},{"t":1.175,"v":-0.0034},{"t":1.184,"v":0.0032},{"t":1.191,"v":0.0073},{"t":1.197,"v":0.0043},{"t":1.203,"v":-0.0001},{"t":1.209,"v":-0.0067},{"t":1.214,"v":-0.0136},{"t":1.221,"v":-0.004},{"t":1.226,"v":0.0016},{"t":1.231,"v":-0.0018},{"t":1.237,"v":-0.0095},{"t":1.242,"v":-0.0128},{"t":1.248,"v":-0.0084},{"t":1.253,"v":-0.0067},{"t":1.259,"v":-0.0092},{"t":1.265,"v":-0.0109},{"t":1.272,"v":-0.0023},{"t":1.278,"v":-0.0009},{"t":1.285,"v":-0.0067},{"t":1.293,"v":-0.0164},{"t":1.299,"v":-0.0081},{"t":1.306,"v":-0.0048},{"t":1.312,"v":-0.0109},{"t":1.319,"v":-0.004},{"t":1.326,"v":0.0029},{"t":1.334,"v":0.0082},{"t":1.341,"v":0.0087},{"t":1.348,"v":0.0109},{"t":1.353,"v":0.0079},{"t":1.358,"v":-0.0001},{"t":1.364,"v":-0.0081},{"t":1.369,"v":-0.0122},{"t":1.375,"v":-0.0053},{"t":1.382,"v":0.0016},{"t":1.39,"v":0.0049},{"t":1.397,"v":0.0054},{"t":1.403,"v":0.0021},{"t":1.409,"v":-0.0012},{"t":1.416,"v":-0.0133},{"t":1.422,"v":-0.0053},{"t":1.429,"v":0.0032},{"t":1.435,"v":-0.004},{"t":1.445,"v":-0.0147},{"t":1.455,"v":-0.0064},{"t":1.464,"v":-0.0103},{"t":1.471,"v":-0.0067},{"t":1.478,"v":-0.0007},{"t":1.486,"v":-0.004},{"t":1.493,"v":-0.0164},{"t":1.501,"v":-0.0062},{"t":1.507,"v":-0.0109},{"t":1.516,"v":-0.004},{"t":1.524,"v":0.0029},{"t":1.532,"v":0.0084},{"t":1.54,"v":0.0098},{"t":1.549,"v":0.0126},{"t":1.554,"v":0.0065},{"t":1.56,"v":0.0002},{"t":1.568,"v":-0.0109},{"t":1.576,"v":0.0002},{"t":1.586,"v":0.0043},{"t":1.594,"v":0.0054},{"t":1.602,"v":0.0018},{"t":1.612,"v":-0.0067},{"t":1.621,"v":-0.0109},{"t":1.629,"v":-0.004},{"t":1.635,"v":-0.0095},{"t":1.645,"v":-0.0136},{"t":1.652,"v":-0.0053},{"t":1.66,"v":-0.0122},{"t":1.667,"v":-0.0142},{"t":1.674,"v":-0.0034},{"t":1.681,"v":-0.0001},{"t":1.689,"v":-0.0067},{"t":1.694,"v":-0.0147},{"t":1.701,"v":-0.0081},{"t":1.708,"v":-0.0062},{"t":1.717,"v":-0.0012},{"t":1.727,"v":0.0043},{"t":1.737,"v":0.012},{"t":1.745,"v":0.0057},{"t":1.752,"v":0.0126},{"t":1.758,"v":0.0043},{"t":1.766,"v":-0.0095},{"t":1.773,"v":-0.0133},{"t":1.779,"v":-0.0012},{"t":1.787,"v":0.0062},{"t":1.794,"v":0.0093},{"t":1.802,"v":0.0049},{"t":1.811,"v":-0.0067},{"t":1.818,"v":-0.0122},{"t":1.826,"v":-0.004},{"t":1.832,"v":0.001},{"t":1.838,"v":-0.004},{"t":1.845,"v":-0.0081},{"t":1.853,"v":-0.0095},{"t":1.859,"v":-0.0081},{"t":1.866,"v":-0.0142},{"t":1.874,"v":-0.004},{"t":1.883,"v":-0.0048},{"t":1.892,"v":-0.015},{"t":1.9,"v":-0.0067},{"t":1.91,"v":-0.0095},{"t":1.92,"v":-0.0007},{"t":1.929,"v":0.0065},{"t":1.936,"v":0.0084},{"t":1.944,"v":0.0112},{"t":1.953,"v":0.0084},{"t":1.957,"v":0.0016},{"t":1.966,"v":-0.0067},{"t":1.972,"v":-0.01},{"t":1.981,"v":-0.0007},{"t":1.989,"v":0.0029},{"t":1.995,"v":0.0046},{"t":2.003,"v":0.0021},{"t":2.01,"v":-0.0081},{"t":2.016,"v":-0.0136},{"t":2.025,"v":0.0029},{"t":2.033,"v":-0.0031},{"t":2.041,"v":-0.0158},{"t":2.046,"v":-0.0131}]
  },
  "vconcat": [
    {
      "width": 2648,
      "height": 483,
      "layer": [
        {
          "data": {"name": "ppg1"},
          "mark": {"type": "line", "strokeWidth": 2.8},
          "encoding": {
            "x": {"field": "t", "type": "quantitative", "scale": {"domain": [-0.102, 2.148], "nice": false, "zero": false}, "axis": {"values": [0, 0.5, 1, 1.5, 2], "labels": false, "title": null, "domain": false, "grid": false, "tickSize": -9, "tickWidth": 2, "tickColor": "#2b2b2b"}},
            "y": {"field": "v", "type": "quantitative", "scale": {"domain": [-0.7, 0.2], "nice": false, "zero": false}, "axis": {"orient": "left", "values": [-0.6, -0.3, 0], "labelExpr": "replace(format(datum.value, '.1f'), '-', '−')", "domain": false, "grid": false, "tickSize": -9, "tickWidth": 2, "tickColor": "#0b7bbd", "labelFont": "Liberation Serif", "labelFontWeight": "bold", "labelFontSize": 68, "labelColor": "#0b7bbd", "labelPadding": 19, "title": "Voltage", "titleFont": "Liberation Serif", "titleFontWeight": "bold", "titleFontSize": 68, "titleColor": "#0b7bbd", "titleAngle": 270, "titleX": -178, "titleY": 241, "titleAlign": "center", "titleBaseline": "middle"}},
            "color": {"datum": "PPG", "scale": {"domain": ["PPG", "Detected THz"], "range": ["#1682c4", "#ff7f0e"]}, "legend": {"orient": "top-right", "offset": 22, "title": null, "labelFont": "Liberation Serif", "labelFontWeight": "bold", "labelFontSize": 43, "labelColor": "black", "labelLimit": 600, "symbolType": "M -0.7 0 L 3.7 0", "symbolSize": 1600, "symbolStrokeWidth": 4, "labelOffset": 89, "rowPadding": 18, "padding": 10, "fillColor": "rgba(255,255,255,0.8)", "strokeColor": "#d4d4d4", "cornerRadius": 8}}
          }
        },
        {
          "data": {"name": "thz1"},
          "mark": {"type": "line", "strokeWidth": 2.6},
          "encoding": {
            "x": {"field": "t", "type": "quantitative"},
            "y": {"field": "v", "type": "quantitative", "scale": {"domain": [-0.02505, 0.02004], "nice": false, "zero": false}, "axis": {"orient": "right", "values": [-0.02, -0.01, 0, 0.01], "labelExpr": "replace(format(datum.value, '.2f'), '-', '−')", "labelLimit": 600, "domain": true, "domainColor": "#ff7f0e", "domainWidth": 3, "zindex": 1, "grid": false, "tickSize": -9, "tickWidth": 2, "tickColor": "#ff7f0e", "labelFont": "Liberation Serif", "labelFontWeight": "bold", "labelFontSize": 68, "labelColor": "#ff7f0e", "labelPadding": 18, "title": "Voltage", "titleFont": "Liberation Serif", "titleFontWeight": "bold", "titleFontSize": 68, "titleColor": "#ff7f0e", "titleAngle": 270, "titleX": 216, "titleY": 241, "titleAlign": "center", "titleBaseline": "middle"}},
            "color": {"datum": "Detected THz"}
          }
        },
        {
          "data": {"values": [{"t": 1.10, "v": 0.07, "lab": "1 Gbit/s"}]},
          "mark": {"type": "text", "font": "Liberation Serif", "fontWeight": "bold", "fontSize": 66, "color": "black", "baseline": "middle", "align": "center"},
          "encoding": {
            "x": {"field": "t", "type": "quantitative"},
            "y": {"field": "v", "type": "quantitative", "scale": {"domain": [-0.7, 0.2], "nice": false, "zero": false}, "axis": null},
            "text": {"field": "lab"}
          }
        },
        {
          "data": {"values": [{"t": 1.139, "v": -0.138, "lab": "1ns"}]},
          "mark": {"type": "text", "font": "Liberation Serif", "fontWeight": "bold", "fontSize": 56, "color": "black", "baseline": "middle", "align": "center"},
          "encoding": {
            "x": {"field": "t", "type": "quantitative"},
            "y": {"field": "v", "type": "quantitative", "scale": {"domain": [-0.7, 0.2], "nice": false, "zero": false}, "axis": null},
            "text": {"field": "lab"}
          }
        },
        {
          "data": {"values": [{"t": 1.005, "t2": 1.272, "v": -0.199}]},
          "layer": [
            {
              "mark": {"type": "rule", "color": "#555555", "strokeWidth": 3.5},
              "encoding": {
                "x": {"field": "t", "type": "quantitative"},
                "x2": {"field": "t2"},
                "y": {"field": "v", "type": "quantitative", "scale": {"domain": [-0.7, 0.2], "nice": false, "zero": false}, "axis": null}
              }
            },
            {
              "mark": {"type": "point", "shape": "M 1 -0.5 L 0 0 L 1 0.5", "size": 3136, "filled": false, "color": "#333333", "strokeWidth": 2.5, "opacity": 1},
              "encoding": {
                "x": {"field": "t", "type": "quantitative"},
                "y": {"field": "v", "type": "quantitative", "scale": {"domain": [-0.7, 0.2], "nice": false, "zero": false}, "axis": null}
              }
            },
            {
              "mark": {"type": "point", "shape": "M -1 -0.5 L 0 0 L -1 0.5", "size": 3136, "filled": false, "color": "#333333", "strokeWidth": 2.5, "opacity": 1},
              "encoding": {
                "x": {"field": "t2", "type": "quantitative"},
                "y": {"field": "v", "type": "quantitative", "scale": {"domain": [-0.7, 0.2], "nice": false, "zero": false}, "axis": null}
              }
            }
          ]
        }
      ],
      "resolve": {"scale": {"y": "independent"}}
    },
    {
      "width": 2648,
      "height": 483,
      "layer": [
        {
          "data": {"name": "ppg5"},
          "mark": {"type": "line", "strokeWidth": 2.8, "color": "#1682c4"},
          "encoding": {
            "x": {"field": "t", "type": "quantitative", "scale": {"domain": [-0.102, 2.148], "nice": false, "zero": false}, "axis": {"values": [0, 0.5, 1, 1.5, 2], "labels": false, "title": null, "domain": false, "grid": false, "tickSize": -9, "tickWidth": 2, "tickColor": "#2b2b2b"}},
            "y": {"field": "v", "type": "quantitative", "scale": {"domain": [-0.7, 0.2], "nice": false, "zero": false}, "axis": {"orient": "left", "values": [-0.6, -0.3, 0], "labelExpr": "replace(format(datum.value, '.1f'), '-', '−')", "domain": false, "grid": false, "tickSize": -9, "tickWidth": 2, "tickColor": "#0b7bbd", "labelFont": "Liberation Serif", "labelFontWeight": "bold", "labelFontSize": 68, "labelColor": "#0b7bbd", "labelPadding": 19, "title": "Voltage", "titleFont": "Liberation Serif", "titleFontWeight": "bold", "titleFontSize": 68, "titleColor": "#0b7bbd", "titleAngle": 270, "titleX": -178, "titleY": 241, "titleAlign": "center", "titleBaseline": "middle"}}
          }
        },
        {
          "data": {"name": "thz5"},
          "mark": {"type": "line", "strokeWidth": 2.6, "color": "#ff7f0e"},
          "encoding": {
            "x": {"field": "t", "type": "quantitative"},
            "y": {"field": "v", "type": "quantitative", "scale": {"domain": [-0.0199, 0.03], "nice": false, "zero": false}, "axis": {"orient": "right", "values": [-0.015, -0.005, 0.005, 0.015], "labelExpr": "replace(format(datum.value, '.3f'), '-', '−')", "labelLimit": 600, "domain": true, "domainColor": "#ff7f0e", "domainWidth": 3, "zindex": 1, "grid": false, "tickSize": -9, "tickWidth": 2, "tickColor": "#ff7f0e", "labelFont": "Liberation Serif", "labelFontWeight": "bold", "labelFontSize": 68, "labelColor": "#ff7f0e", "labelPadding": 18, "title": "Voltage", "titleFont": "Liberation Serif", "titleFontWeight": "bold", "titleFontSize": 68, "titleColor": "#ff7f0e", "titleAngle": 270, "titleX": 252, "titleY": 241, "titleAlign": "center", "titleBaseline": "middle"}}
          }
        },
        {
          "data": {"values": [{"t": 1.10, "v": 0.067, "lab": "5 Gbit/s"}]},
          "mark": {"type": "text", "font": "Liberation Serif", "fontWeight": "bold", "fontSize": 66, "color": "black", "baseline": "middle", "align": "center"},
          "encoding": {
            "x": {"field": "t", "type": "quantitative"},
            "y": {"field": "v", "type": "quantitative", "scale": {"domain": [-0.7, 0.2], "nice": false, "zero": false}, "axis": null},
            "text": {"field": "lab"}
          }
        },
        {
          "data": {"values": [{"t": 1.172, "v": -0.239, "lab": "200ps"}]},
          "mark": {"type": "text", "font": "Liberation Serif", "fontWeight": "bold", "fontSize": 56, "color": "black", "baseline": "middle", "align": "center"},
          "encoding": {
            "x": {"field": "t", "type": "quantitative"},
            "y": {"field": "v", "type": "quantitative", "scale": {"domain": [-0.7, 0.2], "nice": false, "zero": false}, "axis": null},
            "text": {"field": "lab"}
          }
        },
        {
          "data": {"values": [{"t": 1.146, "t2": 1.202, "v": -0.301}]},
          "layer": [
            {
              "mark": {"type": "rule", "color": "#555555", "strokeWidth": 3},
              "encoding": {
                "x": {"field": "t", "type": "quantitative"},
                "x2": {"field": "t2"},
                "y": {"field": "v", "type": "quantitative", "scale": {"domain": [-0.7, 0.2], "nice": false, "zero": false}, "axis": null}
              }
            },
            {
              "mark": {"type": "point", "shape": "M 1 -0.5 L 0 0 L 1 0.5", "size": 3136, "filled": false, "color": "#333333", "strokeWidth": 2.5, "opacity": 1},
              "encoding": {
                "x": {"field": "t", "type": "quantitative"},
                "y": {"field": "v", "type": "quantitative", "scale": {"domain": [-0.7, 0.2], "nice": false, "zero": false}, "axis": null}
              }
            },
            {
              "mark": {"type": "point", "shape": "M -1 -0.5 L 0 0 L -1 0.5", "size": 3136, "filled": false, "color": "#333333", "strokeWidth": 2.5, "opacity": 1},
              "encoding": {
                "x": {"field": "t2", "type": "quantitative"},
                "y": {"field": "v", "type": "quantitative", "scale": {"domain": [-0.7, 0.2], "nice": false, "zero": false}, "axis": null}
              }
            }
          ]
        }
      ],
      "resolve": {"scale": {"y": "independent"}}
    },
    {
      "width": 2648,
      "height": 483,
      "layer": [
        {
          "data": {"name": "ppg10"},
          "mark": {"type": "line", "strokeWidth": 2.8, "color": "#1682c4"},
          "encoding": {
            "x": {"field": "t", "type": "quantitative", "scale": {"domain": [-0.102, 2.148], "nice": false, "zero": false}, "axis": {"values": [0, 0.5, 1, 1.5, 2], "format": ".1f", "title": "Time (ns)", "domain": false, "grid": false, "tickSize": -9, "tickWidth": 2, "tickColor": "#2b2b2b", "labelFont": "Liberation Serif", "labelFontWeight": "bold", "labelFontSize": 80, "labelColor": "black", "labelPadding": 17, "titleFont": "Liberation Serif", "titleFontWeight": "bold", "titleFontSize": 82, "titleColor": "black", "titleX": 1246, "titleY": 170, "titleAlign": "center", "titleBaseline": "alphabetic"}},
            "y": {"field": "v", "type": "quantitative", "scale": {"domain": [-0.7, 0.2], "nice": false, "zero": false}, "axis": {"orient": "left", "values": [-0.6, -0.3, 0], "labelExpr": "replace(format(datum.value, '.1f'), '-', '−')", "domain": false, "grid": false, "tickSize": -9, "tickWidth": 2, "tickColor": "#0b7bbd", "labelFont": "Liberation Serif", "labelFontWeight": "bold", "labelFontSize": 68, "labelColor": "#0b7bbd", "labelPadding": 19, "title": "Voltage", "titleFont": "Liberation Serif", "titleFontWeight": "bold", "titleFontSize": 68, "titleColor": "#0b7bbd", "titleAngle": 270, "titleX": -178, "titleY": 241, "titleAlign": "center", "titleBaseline": "middle"}}
          }
        },
        {
          "data": {"name": "thz10"},
          "mark": {"type": "line", "strokeWidth": 2.6, "color": "#ff7f0e"},
          "encoding": {
            "x": {"field": "t", "type": "quantitative"},
            "y": {"field": "v", "type": "quantitative", "scale": {"domain": [-0.02, 0.02], "nice": false, "zero": false}, "axis": {"orient": "right", "values": [-0.015, -0.005, 0.005], "labelExpr": "replace(format(datum.value, '.3f'), '-', '−')", "labelLimit": 600, "domain": true, "domainColor": "#ff7f0e", "domainWidth": 3, "zindex": 1, "grid": false, "tickSize": -9, "tickWidth": 2, "tickColor": "#ff7f0e", "labelFont": "Liberation Serif", "labelFontWeight": "bold", "labelFontSize": 68, "labelColor": "#ff7f0e", "labelPadding": 18, "title": "Voltage", "titleFont": "Liberation Serif", "titleFontWeight": "bold", "titleFontSize": 68, "titleColor": "#ff7f0e", "titleAngle": 270, "titleX": 252, "titleY": 241, "titleAlign": "center", "titleBaseline": "middle"}}
          }
        },
        {
          "data": {"values": [{"t": 1.116, "v": 0.068, "lab": "10 Gbit/s"}]},
          "mark": {"type": "text", "font": "Liberation Serif", "fontWeight": "bold", "fontSize": 66, "color": "black", "baseline": "middle", "align": "center"},
          "encoding": {
            "x": {"field": "t", "type": "quantitative"},
            "y": {"field": "v", "type": "quantitative", "scale": {"domain": [-0.7, 0.2], "nice": false, "zero": false}, "axis": null},
            "text": {"field": "lab"}
          }
        },
        {
          "data": {"values": [{"t": 1.072, "v": -0.14, "lab": "100ps"}]},
          "mark": {"type": "text", "font": "Liberation Serif", "fontWeight": "bold", "fontSize": 56, "color": "black", "baseline": "middle", "align": "center"},
          "encoding": {
            "x": {"field": "t", "type": "quantitative"},
            "y": {"field": "v", "type": "quantitative", "scale": {"domain": [-0.7, 0.2], "nice": false, "zero": false}, "axis": null},
            "text": {"field": "lab"}
          }
        },
        {
          "data": {"values": [{"t": 1.055, "t2": 1.092, "v": -0.201}]},
          "layer": [
            {
              "mark": {"type": "rule", "color": "#555555", "strokeWidth": 3},
              "encoding": {
                "x": {"field": "t", "type": "quantitative"},
                "x2": {"field": "t2"},
                "y": {"field": "v", "type": "quantitative", "scale": {"domain": [-0.7, 0.2], "nice": false, "zero": false}, "axis": null}
              }
            },
            {
              "mark": {"type": "point", "shape": "M 1 -0.5 L 0 0 L 1 0.5", "size": 3136, "filled": false, "color": "#333333", "strokeWidth": 2.5, "opacity": 1},
              "encoding": {
                "x": {"field": "t", "type": "quantitative"},
                "y": {"field": "v", "type": "quantitative", "scale": {"domain": [-0.7, 0.2], "nice": false, "zero": false}, "axis": null}
              }
            },
            {
              "mark": {"type": "point", "shape": "M -1 -0.5 L 0 0 L -1 0.5", "size": 3136, "filled": false, "color": "#333333", "strokeWidth": 2.5, "opacity": 1},
              "encoding": {
                "x": {"field": "t2", "type": "quantitative"},
                "y": {"field": "v", "type": "quantitative", "scale": {"domain": [-0.7, 0.2], "nice": false, "zero": false}, "axis": null}
              }
            }
          ]
        }
      ],
      "resolve": {"scale": {"y": "independent"}}
    }
  ],
  "resolve": {"scale": {"color": "independent"}, "legend": {"color": "independent"}},
  "config": {
    "font": "Liberation Serif",
    "view": {"stroke": "#2b2b2b", "strokeWidth": 3}
  }
}
